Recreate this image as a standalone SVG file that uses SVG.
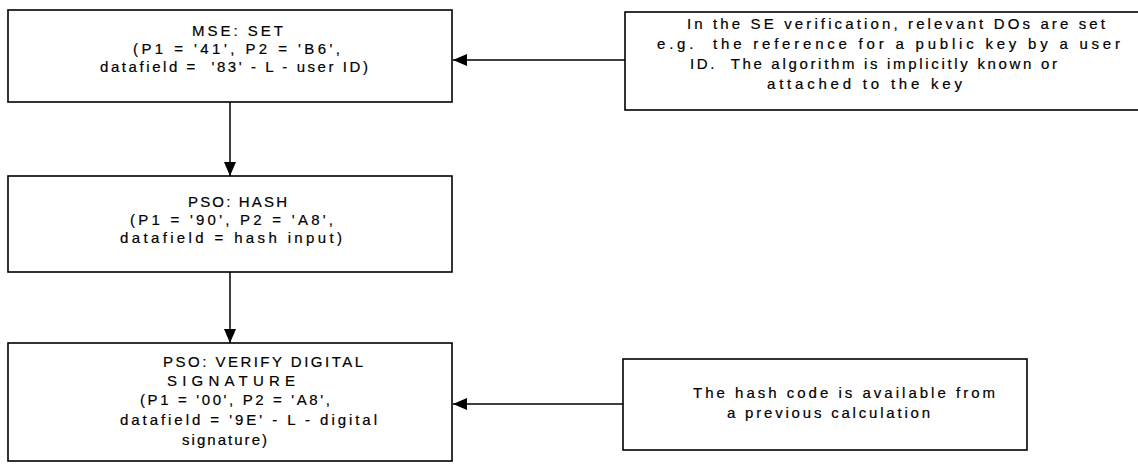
<svg xmlns="http://www.w3.org/2000/svg" width="1138" height="464" viewBox="0 0 1138 464">
  <style>
    .box { fill: #ffffff; stroke: #000000; stroke-width: 1.6; }
    .lbl { font-family: "Liberation Sans", Arial, sans-serif; font-size: 15px; fill: #000000; stroke: #000000; stroke-width: 0.2; white-space: pre; }
    .wire { fill: none; stroke: #000000; stroke-width: 1.5; }
  </style>
  <defs>
    <marker id="head" viewBox="0 0 14 12" refX="14" refY="6" markerWidth="14" markerHeight="12" markerUnits="userSpaceOnUse" orient="auto">
      <path d="M0,0 L14,6 L0,12 Z" fill="#000000"/>
    </marker>
  </defs>
  <rect width="1138" height="464" fill="#ffffff"/>

  <g id="connectors">
    <path class="wire" d="M230,102 V176" marker-end="url(#head)"/>
    <path class="wire" d="M230,272 V343" marker-end="url(#head)"/>
    <path class="wire" d="M625,60 H453" marker-end="url(#head)"/>
    <path class="wire" d="M623,404 H453" marker-end="url(#head)"/>
  </g>

  <g id="mse-set">
    <rect class="box" x="8" y="10" width="444" height="92"/>
    <text class="lbl" x="192" y="36" textLength="91" lengthAdjust="spacing">MSE: SET</text>
    <text class="lbl" x="133" y="54" textLength="207" lengthAdjust="spacing">(P1 = '41', P2 = 'B6',</text>
    <text class="lbl" x="100" y="72" textLength="268" lengthAdjust="spacing" xml:space="preserve">datafield =  '83' - L - user ID)</text>
  </g>

  <g id="pso-hash">
    <rect class="box" x="8" y="176" width="444" height="96"/>
    <text class="lbl" x="188" y="207" textLength="99" lengthAdjust="spacing">PSO: HASH</text>
    <text class="lbl" x="130" y="225" textLength="203" lengthAdjust="spacing">(P1 = '90', P2 = 'A8',</text>
    <text class="lbl" x="120" y="243" textLength="222" lengthAdjust="spacing">datafield = hash input)</text>
  </g>

  <g id="pso-verify">
    <rect class="box" x="8" y="343" width="444" height="118"/>
    <text class="lbl" x="163" y="367" textLength="200" lengthAdjust="spacing">PSO: VERIFY DIGITAL</text>
    <text class="lbl" x="167" y="386" textLength="128" lengthAdjust="spacing">SIGNATURE</text>
    <text class="lbl" x="140" y="405" textLength="190" lengthAdjust="spacing">(P1 = '00', P2 = 'A8',</text>
    <text class="lbl" x="120" y="425" textLength="257" lengthAdjust="spacing">datafield = '9E' - L - digital</text>
    <text class="lbl" x="182" y="445" textLength="85" lengthAdjust="spacing">signature)</text>
  </g>

  <g id="note-se">
    <rect class="box" x="625" y="12" width="520" height="98"/>
    <text class="lbl" x="687" y="29" textLength="418" lengthAdjust="spacing">In the SE verification, relevant DOs are set</text>
    <text class="lbl" x="657" y="49" textLength="463" lengthAdjust="spacing" xml:space="preserve">e.g.  the reference for a public key by a user</text>
    <text class="lbl" x="690" y="69" textLength="367" lengthAdjust="spacing" xml:space="preserve">ID.  The algorithm is implicitly known or</text>
    <text class="lbl" x="767" y="89" textLength="195" lengthAdjust="spacing">attached to the key</text>
  </g>

  <g id="note-hash">
    <rect class="box" x="623" y="359" width="404" height="91"/>
    <text class="lbl" x="693" y="398" textLength="302" lengthAdjust="spacing">The hash code is available from</text>
    <text class="lbl" x="727" y="418" textLength="203" lengthAdjust="spacing">a previous calculation</text>
  </g>
</svg>
